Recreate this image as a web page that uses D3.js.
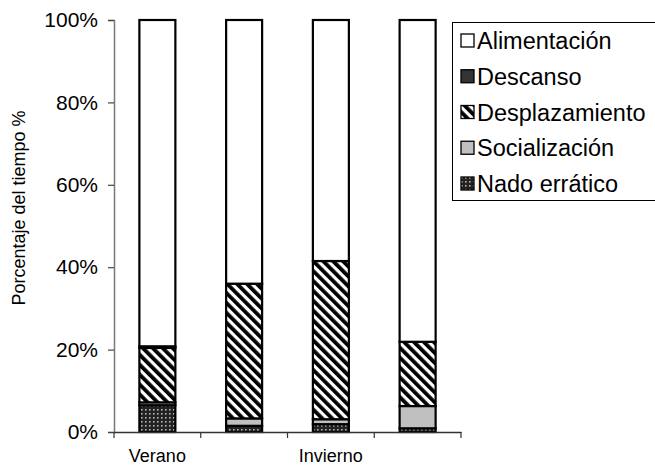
<!DOCTYPE html>
<html>
<head>
<meta charset="utf-8">
<script src="https://cdn.jsdelivr.net/npm/d3@7"></script>
<style>
  html, body { margin: 0; padding: 0; background: #fff; }
  svg { display: block; font-family: "Liberation Sans", Arial, sans-serif; }
</style>
</head>
<body>
<svg id="chart" width="655" height="467"></svg>
<script>
// ---- data ----
const categories = ["Verano A", "Verano B", "Invierno A", "Invierno B"];
const categoryLabels = ["Verano", "", "Invierno", ""];
const seriesNames = ["Nado errático", "Socialización", "Desplazamiento", "Descanso", "Alimentación"];
const nadoErratico   = [6.5, 1.5, 1.9, 0.9];
const socializacion  = [0.7, 1.8, 1.2, 5.4];
const desplazamiento = [13.2, 32.7, 38.4, 15.6];
const descanso       = [0.4, 0.0, 0.0, 0.0];
const alimentacion   = [79.2, 64.0, 58.5, 78.1];
const yTicks = [0, 20, 40, 60, 80, 100];
const legendOrder = ["Alimentación", "Descanso", "Desplazamiento", "Socialización", "Nado errático"];

const seriesValues = {
  "Nado errático": nadoErratico,
  "Socialización": socializacion,
  "Desplazamiento": desplazamiento,
  "Descanso": descanso,
  "Alimentación": alimentacion
};

const svg = d3.select("#chart");
const defs = svg.append("defs");

// stripes pattern
const stripe = defs.append("pattern")
  .attr("id", "pat-stripe").attr("patternUnits", "userSpaceOnUse")
  .attr("width", 7).attr("height", 7)
  .attr("patternTransform", "rotate(-45)");
stripe.append("rect").attr("width", 7).attr("height", 7).attr("fill", "#fff");
stripe.append("rect").attr("x", 0).attr("width", 3.8).attr("height", 7).attr("fill", "#000");

// dotted pattern
const dots = defs.append("pattern")
  .attr("id", "pat-dots").attr("patternUnits", "userSpaceOnUse")
  .attr("width", 4).attr("height", 4);
dots.append("rect").attr("width", 4).attr("height", 4).attr("fill", "#222");
dots.append("rect").attr("x", 1).attr("y", 1).attr("width", 1.6).attr("height", 1.6).attr("fill", "#b5b5b5");

const fills = {
  "Alimentación": "#ffffff",
  "Descanso": "#333333",
  "Desplazamiento": "url(#pat-stripe)",
  "Socialización": "#c0c0c0",
  "Nado errático": "url(#pat-dots)"
};

const x = d3.scaleBand().domain(categories).range([114, 461]).paddingInner(0).paddingOuter(0);
const y = d3.scaleLinear().domain([0, 100]).range([432, 20]);
const barW = 36;

const stackData = categories.map((c, i) => {
  const o = { cat: c };
  seriesNames.forEach(s => o[s] = seriesValues[s][i]);
  return o;
});
const stacked = d3.stack().keys(seriesNames)(stackData);

const gBars = svg.append("g");
stacked.forEach(layer => {
  gBars.selectAll(null).data(layer).join("rect")
    .attr("x", d => x(d.data.cat) + x.bandwidth() / 2 - barW / 2)
    .attr("width", barW)
    .attr("y", d => y(d[1]))
    .attr("height", d => Math.max(0, y(d[0]) - y(d[1])))
    .attr("fill", fills[layer.key])
    .attr("stroke", "#000")
    .attr("stroke-width", d => (d[1] - d[0]) > 0 ? 2.2 : 0);
});

// axes
const yAxis = svg.append("g").attr("transform", "translate(114,0)")
  .call(d3.axisLeft(y).tickValues(yTicks).tickSize(6).tickPadding(10).tickFormat(d => d + "%"));
yAxis.select(".domain").attr("stroke", "#777").attr("stroke-width", 1.5);
yAxis.selectAll(".tick line").attr("stroke", "#444").attr("stroke-width", 1.2);
yAxis.selectAll(".tick text").attr("font-size", 21).attr("font-family", "Liberation Sans, Arial, sans-serif").attr("fill", "#000");

const xAxis = svg.append("g").attr("transform", "translate(0,432)")
  .call(d3.axisBottom(x).tickSize(0).tickFormat(""));
xAxis.select(".domain").attr("stroke", "#333").attr("stroke-width", 1.5);
// boundary ticks
const bounds = categories.map(c => x(c)).concat([x(categories[categories.length - 1]) + x.bandwidth()]);
xAxis.selectAll(".bt").data(bounds).join("line")
  .attr("x1", d => d).attr("x2", d => d).attr("y1", 0).attr("y2", 6)
  .attr("stroke", "#333").attr("stroke-width", 1.2);
xAxis.selectAll(".cl").data(categories).join("text")
  .attr("x", d => x(d) + x.bandwidth() / 2)
  .attr("y", 30)
  .attr("text-anchor", "middle")
  .attr("font-size", 18)
  .attr("fill", "#000")
  .text((d, i) => categoryLabels[i]);

// y title
svg.append("text")
  .attr("transform", "translate(25,208) rotate(-90)")
  .attr("text-anchor", "middle")
  .attr("font-size", 18)
  .attr("fill", "#000")
  .text("Porcentaje del tiempo %");

// legend
const lg = svg.append("g");
lg.append("rect").attr("x", 452.5).attr("y", 22.5).attr("width", 210).attr("height", 178)
  .attr("fill", "#fff").attr("stroke", "#000").attr("stroke-width", 1);
const rowY = d3.scalePoint().domain(legendOrder).range([41, 184]);
legendOrder.forEach(name => {
  lg.append("rect").attr("x", 461).attr("y", rowY(name) - 7).attr("width", 13).attr("height", 13)
    .attr("fill", fills[name]).attr("stroke", "#000").attr("stroke-width", 1.3);
  lg.append("text").attr("x", 477).attr("y", rowY(name) + 8)
    .attr("font-size", 23.5).attr("fill", "#000").text(name);
});
</script>
</body>
</html>
